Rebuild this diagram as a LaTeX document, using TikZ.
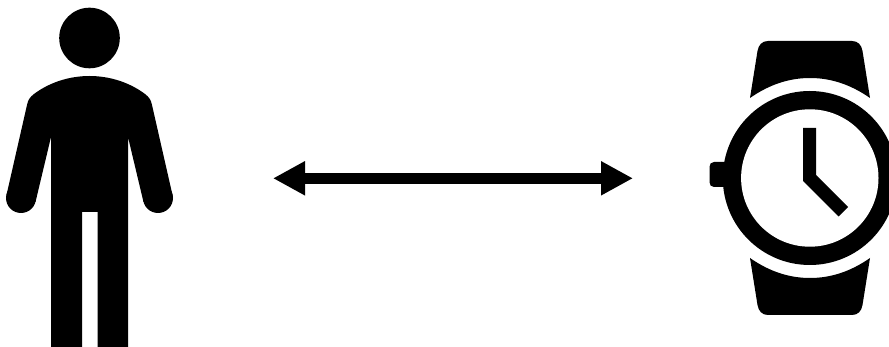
\documentclass[tikz,border=0pt]{standalone}
\usetikzlibrary{arrows.meta}
\tikzset{
  icon/.style={fill=black,draw=none},
  hole/.style={fill=white,draw=none},
  link/.style={line width=10.5pt,draw=black,{Triangle[length=32pt,width=32pt]}-{Triangle[length=32pt,width=32pt]},shorten <=0pt,shorten >=0pt}
}
\begin{document}
\begin{tikzpicture}[x=1pt,y=-1pt]
\useasboundingbox (0,0) rectangle (889,347);
\clip (0,0) rectangle (889,347);
\fill[white] (0,0) rectangle (889,347);
% person
\fill[icon] (89.5,38) circle (30.3);
\fill[icon] (21,198) circle (15);
\fill[icon] (158,198) circle (15);
\fill[icon] (51,347) -- (51,137) -- (35.5,202) -- (6.5,195)
  -- (27,105) .. controls (28,100) and (30,97) .. (34,94)
  .. controls (50,82) and (70,76) .. (89.5,76)
  .. controls (109,76) and (129,82) .. (145,94)
  .. controls (149,97) and (151,100) .. (152,105)
  -- (172.5,195) -- (143.5,202) -- (128,137)
  -- (128,347) -- (97.5,347) -- (97.5,212) -- (82,212) -- (82,347) -- cycle;
% connector
\coordinate (armL) at (273,178.3);
\coordinate (armR) at (633,178.3);
\draw[link] (armL) -- (armR);
% watch
\fill[icon] (750,98) -- (757.5,51) .. controls (758.5,45) and (762,41) .. (768,41)
  -- (852,41) .. controls (858,41) and (861.5,45) .. (862.5,51) -- (870,98)
  .. controls (850,84) and (830,78) .. (810,78) .. controls (790,78) and (770,84) .. (750,98) -- cycle;
\fill[icon] (750,258) -- (757.5,305) .. controls (758.5,311) and (762,315) .. (768,315)
  -- (852,315) .. controls (858,315) and (861.5,311) .. (862.5,305) -- (870,258)
  .. controls (850,272) and (830,278) .. (810,278) .. controls (790,278) and (770,272) .. (750,258) -- cycle;
\fill[icon] (728,162) -- (714,162) .. controls (711,162) and (709.5,164) .. (709.5,167)
  -- (709.5,182) .. controls (709.5,185) and (711,187) .. (714,187) -- (728,187) -- cycle;
\fill[icon] (809.8,178) circle (87);
\fill[hole] (809.8,178) circle (68.7);
\fill[icon] (803,128) -- (816,128) -- (816,175) -- (848,207) -- (838.5,216.5) -- (803,181) -- cycle;
\end{tikzpicture}
\end{document}
